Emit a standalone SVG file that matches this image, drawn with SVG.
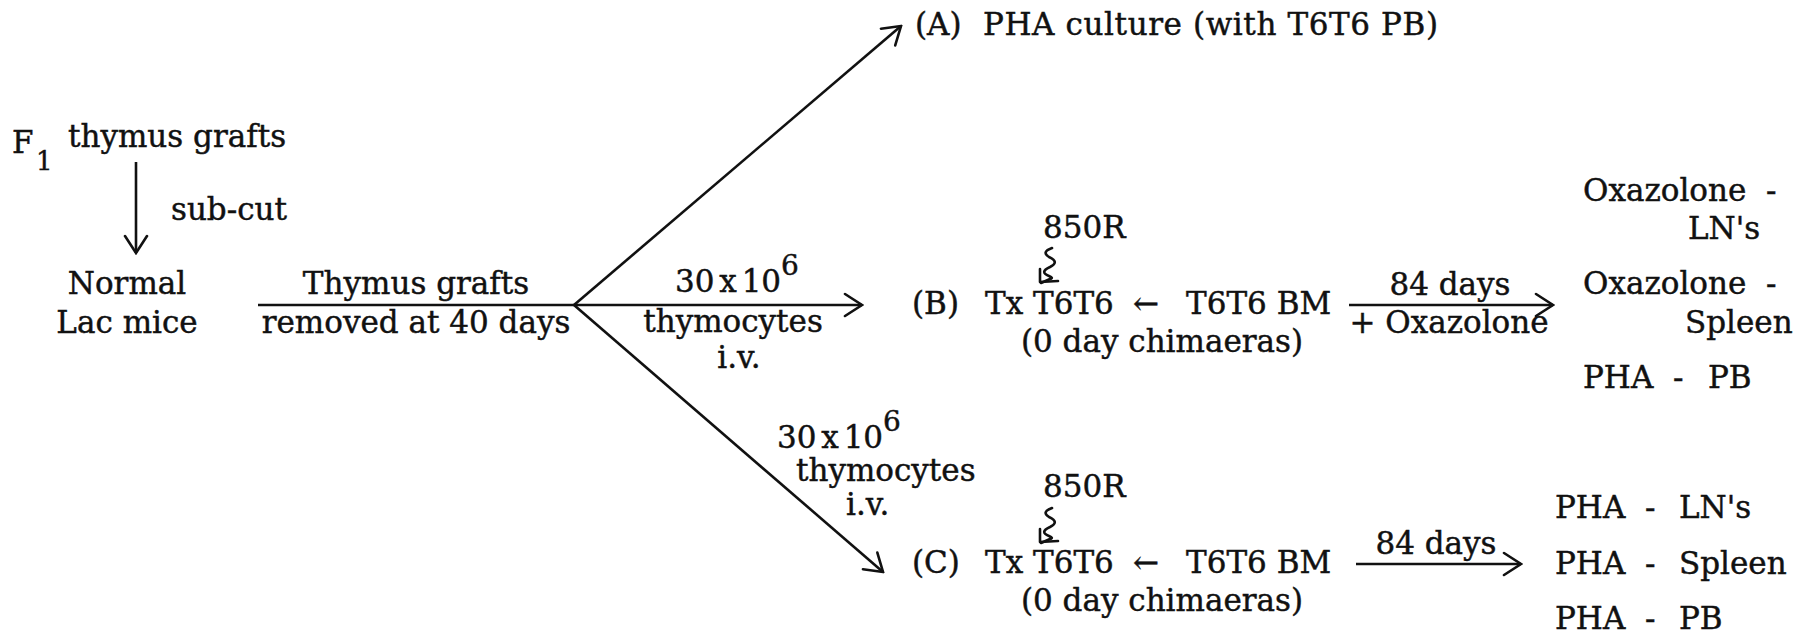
<svg xmlns="http://www.w3.org/2000/svg" width="1810" height="634" viewBox="0 0 1810 634">
<style>
text{font-family:"DejaVu Serif","Liberation Serif",serif;font-size:31px;fill:#111;stroke:#111;stroke-width:0.45}
.sub{font-size:26px}
.sup{font-size:28px}
.c{text-anchor:middle}
.ln{stroke:#111;stroke-width:2.6;fill:none}
.sq{stroke:#111;stroke-width:2.6;fill:none;stroke-linejoin:round;stroke-linecap:round}
</style>
<defs>
<marker id="ah" markerWidth="22" markerHeight="28" refX="20" refY="14" orient="auto" markerUnits="userSpaceOnUse">
<path d="M3,3 L20,14 L3,25" fill="none" stroke="#111" stroke-width="2.6" stroke-linecap="round"/>
</marker>
</defs>
<rect width="1810" height="634" fill="#fff"/>

<g id="connectors">
<line class="ln" x1="136" y1="162" x2="136" y2="253" marker-end="url(#ah)"/>
<line class="ln" x1="258" y1="305" x2="574" y2="305"/>
<line class="ln" x1="574" y1="305" x2="901" y2="26" marker-end="url(#ah)"/>
<line class="ln" x1="574" y1="305" x2="862" y2="305" marker-end="url(#ah)"/>
<line class="ln" x1="574" y1="305" x2="883" y2="572" marker-end="url(#ah)"/>
<line class="ln" x1="1349" y1="305" x2="1553" y2="305" marker-end="url(#ah)"/>
<line class="ln" x1="1356" y1="564" x2="1521" y2="564" marker-end="url(#ah)"/>
<path class="sq" d="M1052,248 q-11,4 -3,9 q11,5 1,10 q-11,5 -1,9 q5,2 1,3 l-9,4"/>
<path class="sq" d="M1040,269 L1040,282 L1058,281"/>
<path class="sq" d="M1052,508 q-11,4 -3,9 q11,5 1,10 q-11,5 -1,9 q5,2 1,3 l-9,4"/>
<path class="sq" d="M1040,529 L1040,542 L1058,541"/>
</g>

<g id="n-f1">
<text x="12" y="153">F</text><text class="sub" x="36" y="170">1</text>
<text x="68" y="147">thymus grafts</text>
</g>
<g id="l-subcut"><text x="171" y="220">sub-cut</text></g>
<g id="n-normal">
<text class="c" x="127" y="294">Normal</text>
<text class="c" x="127" y="333">Lac mice</text>
</g>
<g id="l-removed">
<text class="c" x="416" y="294">Thymus grafts</text>
<text class="c" x="416" y="333">removed at 40 days</text>
</g>
<g id="n-a">
<text x="915" y="35">(A)</text>
<text x="983" y="35" letter-spacing="0.6">PHA culture (with T6T6 PB)</text>
</g>
<g id="l-b-in">
<text x="675" y="292" word-spacing="-5">30 x 10<tspan class="sup" dy="-17">6</tspan></text>
<text class="c" x="733" y="332">thymocytes</text>
<text class="c" x="739" y="368">i.v.</text>
</g>
<g id="l-c-in">
<text x="777" y="448" word-spacing="-5">30 x 10<tspan class="sup" dy="-17">6</tspan></text>
<text x="796" y="481">thymocytes</text>
<text x="846" y="515">i.v.</text>
</g>
<g id="n-b">
<text x="1043" y="238">850R</text>
<text x="912" y="314">(B)</text>
<text x="985" y="314">Tx T6T6</text>
<text x="1133" y="314">←</text>
<text x="1186" y="314">T6T6 BM</text>
<text class="c" x="1162" y="352">(0 day chimaeras)</text>
</g>
<g id="l-b-out">
<text class="c" x="1450" y="295">84 days</text>
<text class="c" x="1449" y="333">+ Oxazolone</text>
</g>
<g id="n-b-res">
<text x="1583" y="201">Oxazolone <tspan x="1766">-</tspan></text>
<text x="1688" y="239">LN's</text>
<text x="1583" y="294">Oxazolone <tspan x="1766">-</tspan></text>
<text x="1685" y="333">Spleen</text>
<text x="1583" y="388">PHA <tspan x="1673">-</tspan><tspan x="1708">PB</tspan></text>
</g>
<g id="n-c">
<text x="1043" y="497">850R</text>
<text x="912" y="573">(C)</text>
<text x="985" y="573">Tx T6T6</text>
<text x="1133" y="573">←</text>
<text x="1186" y="573">T6T6 BM</text>
<text class="c" x="1162" y="611">(0 day chimaeras)</text>
</g>
<g id="l-c-out"><text class="c" x="1436" y="554">84 days</text></g>
<g id="n-c-res">
<text x="1555" y="518">PHA <tspan x="1645">-</tspan><tspan x="1679">LN's</tspan></text>
<text x="1555" y="574">PHA <tspan x="1645">-</tspan><tspan x="1679">Spleen</tspan></text>
<text x="1555" y="629">PHA <tspan x="1645">-</tspan><tspan x="1679">PB</tspan></text>
</g>
</svg>
